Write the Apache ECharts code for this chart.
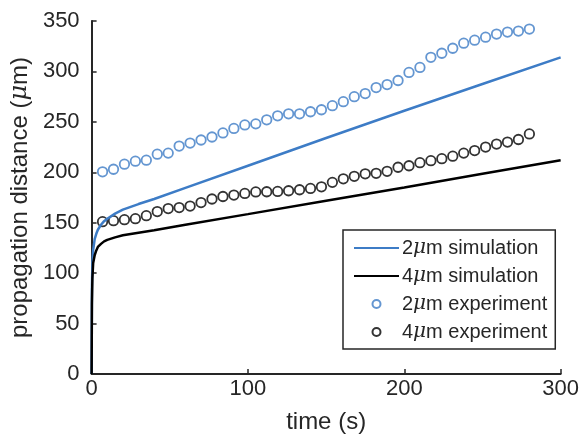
<!DOCTYPE html>
<html><head><meta charset="utf-8">
<script src="https://cdn.jsdelivr.net/npm/echarts@6/dist/echarts.min.js"></script>
<style>html,body{margin:0;padding:0;background:#fff}#c{width:582px;height:442px}</style>
</head><body><div id="c"></div>
<script>
// simulation curves
const simTime = [0, 0.2, 0.5, 1, 2, 3, 4, 6, 8, 10, 15, 20, 30, 40, 60, 100, 150, 200, 250, 300];
const sim2um  = [0, 85, 110, 123, 134, 139, 143, 148, 151.5, 154, 159, 163, 168.5, 173.5, 184.5, 206.5, 234, 261, 287.5, 314];
const sim4um  = [0, 70, 95, 110, 118, 122.5, 126, 129, 131.5, 133, 135.5, 137.5, 140, 142.5, 148, 158.5, 171.8, 185, 198.5, 212];
// experiments
const expTime = [7, 14, 21, 28, 35, 42, 49, 56, 63, 70, 77, 84, 91, 98, 105, 112, 119, 126, 133, 140,
                 147, 154, 161, 168, 175, 182, 189, 196, 203, 210, 217, 224, 231, 238, 245, 252, 259, 266, 273, 280];
const exp2um = [200.5, 203, 208, 211, 212, 218, 219, 226, 229, 232, 235, 239, 243.5, 247, 248, 252, 256, 258, 258, 260,
                262, 266, 270, 275, 278, 284, 287, 291, 299, 304, 314, 318, 323, 328, 331, 334, 337, 339, 340, 342];
const exp4um = [151, 152, 153, 154, 157, 161, 164, 165, 166.5, 170, 173.5, 176, 177.4, 179, 180.5, 180.7, 181, 181.7, 182.7, 184,
                185.6, 190, 193.5, 196, 198.5, 199, 201, 205, 206.5, 209.5, 211.5, 213.5, 216, 219, 221.5, 225, 228, 230, 232.5, 238];
const xTicks = [0, 100, 200, 300];
const yTicks = [0, 50, 100, 150, 200, 250, 300, 350];
const names = ['2μm simulation', '4μm simulation', '2μm experiment', '4μm experiment'];

const pair = (xs, ys) => xs.map((x, i) => [x, ys[i]]);
const BLUE = '#3d7cc6', DARK = '#262626';
const FONT = '"Liberation Sans", Arial, sans-serif';

const chart = echarts.init(document.getElementById('c'), null, {renderer: 'canvas'});
chart.setOption({
  animation: false,
  backgroundColor: '#fff',
  textStyle: {fontFamily: FONT},
  grid: {left: 87, right: 21, top: 21, bottom: 68, containLabel: false},
  xAxis: {
    type: 'value', min: xTicks[0], max: xTicks[xTicks.length - 1], interval: 100,
    name: 'time (s)', nameLocation: 'middle', nameGap: 36,
    nameTextStyle: {fontSize: 24, color: DARK, fontFamily: FONT},
    axisLine: {show: true, lineStyle: {color: DARK, width: 2}},
    axisTick: {show: true, inside: true, length: 5, lineStyle: {color: DARK, width: 1.5}},
    axisLabel: {fontSize: 22, color: DARK, margin: 4, fontFamily: FONT},
    splitLine: {show: false}
  },
  yAxis: {
    type: 'value', min: yTicks[0], max: yTicks[yTicks.length - 1], interval: 50,
    name: 'propagation distance ({i|μ}m)', nameLocation: 'middle', nameGap: 52,
    nameTextStyle: {fontSize: 24, color: DARK, fontFamily: FONT,
      rich: {i: {fontSize: 24, fontStyle: 'italic', color: DARK, fontFamily: '"DejaVu Serif", serif'}}},
    axisLine: {show: true, lineStyle: {color: DARK, width: 2}},
    axisTick: {show: true, inside: true, length: 5, lineStyle: {color: DARK, width: 1.5}},
    axisLabel: {fontSize: 22, color: DARK, margin: 12, fontFamily: FONT},
    splitLine: {show: false}
  },
  legend: {
    orient: 'vertical', left: 343, top: 230,
    data: [
      {name: names[0], itemStyle: {opacity: 0}},
      {name: names[1], itemStyle: {opacity: 0}},
      {name: names[2]},
      {name: names[3]}
    ],
    itemWidth: 45, itemHeight: 8, itemGap: 8,
    padding: [8, 8, 7, 10],
    borderColor: DARK, borderWidth: 1.5, backgroundColor: '#fff',
    textStyle: {fontSize: 20, color: DARK, fontFamily: FONT, lineHeight: 20, padding: [0, 0, 0, -2],
      rich: {i: {fontSize: 20, fontStyle: 'italic', color: DARK, fontFamily: '"DejaVu Serif", serif', lineHeight: 20}}},
    formatter: n => n.replace('μ', '{i|μ}')
  },
  series: [
    {name: names[0], type: 'line', data: pair(simTime, sim2um), symbol: 'none', smooth: false,
     lineStyle: {color: BLUE, width: 2.5}, itemStyle: {color: BLUE}},
    {name: names[1], type: 'line', data: pair(simTime, sim4um), symbol: 'none', smooth: false,
     lineStyle: {color: '#000', width: 2.5}, itemStyle: {color: '#000'}},
    {name: names[2], type: 'scatter', data: pair(expTime, exp2um), symbol: 'circle', symbolSize: 9.5,
     itemStyle: {color: 'rgba(0,0,0,0)', borderColor: BLUE, borderWidth: 1.8}},
    {name: names[3], type: 'scatter', data: pair(expTime, exp4um), symbol: 'circle', symbolSize: 9.5,
     itemStyle: {color: 'rgba(0,0,0,0)', borderColor: '#000', borderWidth: 1.8}}
  ]
});
</script></body></html>
